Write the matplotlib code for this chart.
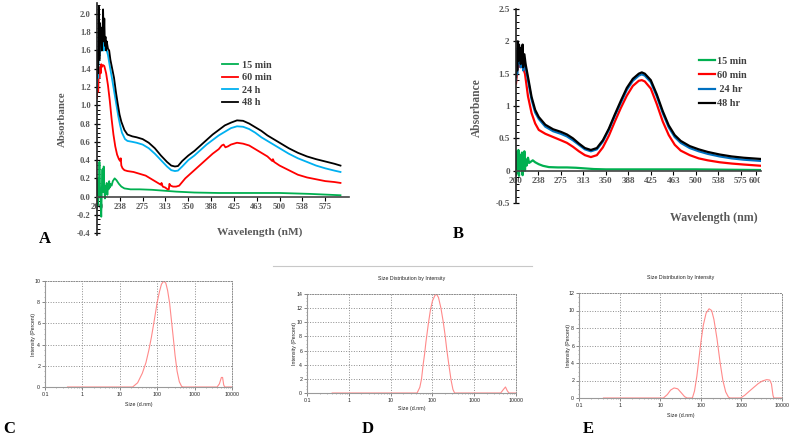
import numpy as np
import matplotlib.pyplot as plt
from matplotlib.lines import Line2D
from matplotlib.patches import Rectangle
from matplotlib.ticker import MultipleLocator, LogLocator, NullFormatter

# ---------------- UV-Vis panel A ----------------
wl_a_15 = [200, 201, 202, 203, 204, 205, 206, 207, 208, 209, 210, 211, 212, 213, 214, 215, 216, 217,
           218, 219, 220, 221, 222, 224, 226, 229, 232, 236, 240, 245, 255, 270, 290, 310, 330, 360,
           400, 450, 500, 550, 600]
abs_a_15 = [0.15, -0.1, 0.2, 0.0, 0.38, 0.1, -0.05, -0.22, 0.1, 0.3, 0.05, 0.33, 0.1, -0.02, 0.12, 0.04,
            0.15, 0.02, 0.13, 0.08, 0.17, 0.1, 0.14, 0.12, 0.17, 0.2, 0.18, 0.14, 0.11, 0.09, 0.08, 0.08,
            0.075, 0.065, 0.055, 0.045, 0.04, 0.04, 0.04, 0.03, 0.015]

wl_a_60 = [200, 201, 202, 203, 204, 205, 206, 207, 208, 210, 212, 215, 218, 221, 224, 227, 230, 233,
           236, 238, 239, 240, 242, 245, 250, 260, 270, 280, 290, 300, 305, 306, 308, 312, 316,
           318, 319, 321, 325, 330, 335, 340, 345, 350, 360, 370, 380, 390, 400, 405, 408, 411, 415,
           420, 430, 440, 450, 460, 470, 480, 488, 489, 491, 500, 515, 530, 545, 560, 575, 590, 600]
abs_a_60 = [1.08, 1.25, 1.15, 1.4, 1.3, 1.42, 1.35, 1.45, 1.42, 1.44, 1.43, 1.35, 1.22, 1.05, 0.85, 0.68,
            0.55, 0.46, 0.41, 0.39, 0.42, 0.34, 0.31, 0.29, 0.28, 0.27, 0.25, 0.23, 0.19, 0.15, 0.13,
            0.15, 0.11, 0.1, 0.08, 0.08, 0.14, 0.12, 0.11, 0.11, 0.12, 0.16, 0.2, 0.23, 0.29, 0.35, 0.41,
            0.47, 0.52, 0.56, 0.57, 0.54, 0.55, 0.57, 0.59, 0.58, 0.56, 0.52, 0.48, 0.44, 0.39, 0.41,
            0.38, 0.34, 0.29, 0.24, 0.21, 0.19, 0.17, 0.16, 0.15]

wl_a_24 = [200, 201, 202, 203, 204, 205, 206, 207, 208, 209, 210, 211, 212, 214, 216, 218, 221, 225,
           229, 232, 235, 238, 241, 246, 250, 258, 265, 275, 285, 295, 305, 315, 322, 328, 333, 340,
           350, 360, 370, 380, 390, 400, 410, 420, 430, 440, 450, 460, 470, 480, 490, 500, 515, 530,
           545, 560, 575, 590, 600]
abs_a_24 = [1.2, 1.45, 1.3, 1.8, 1.55, 1.78, 1.65, 1.8, 1.6, 1.72, 1.75, 1.6, 1.7, 1.62, 1.6, 1.55, 1.43,
            1.28, 1.12, 1.0, 0.88, 0.78, 0.7, 0.63, 0.61, 0.6, 0.59, 0.57, 0.53, 0.47, 0.4, 0.33, 0.29,
            0.28, 0.285, 0.33, 0.4, 0.45, 0.51, 0.57, 0.62, 0.67, 0.71, 0.75, 0.77, 0.765, 0.74, 0.7,
            0.65, 0.61, 0.57, 0.53, 0.47, 0.42, 0.38, 0.34, 0.31, 0.285, 0.27]

wl_a_48 = [200, 201, 202, 203, 204, 205, 206, 207, 208, 209, 210, 211, 212, 213, 214, 215, 216, 218,
           220, 222, 225, 228, 231, 234, 237, 240, 245, 250, 258, 265, 275, 285, 295, 305, 315, 322, 328,
           333, 340, 350, 360, 370, 380, 390, 400, 410, 420, 430, 440, 450, 460, 470, 480, 490, 500,
           515, 530, 545, 560, 575, 590, 600]
abs_a_48 = [1.3, 1.6, 1.35, 2.08, 1.5, 1.9, 1.7, 1.85, 1.6, 1.75, 2.05, 1.7, 1.95, 1.65, 1.75, 1.6, 1.7,
            1.62, 1.6, 1.5, 1.4, 1.3, 1.15, 1.02, 0.9, 0.82, 0.73, 0.68, 0.66, 0.65, 0.63, 0.59, 0.53, 0.45,
            0.38, 0.34, 0.33, 0.335, 0.39, 0.45, 0.5, 0.56, 0.62, 0.68, 0.73, 0.78, 0.81, 0.835, 0.83,
            0.8, 0.76, 0.72, 0.67, 0.63, 0.59, 0.53, 0.48, 0.44, 0.41, 0.385, 0.36, 0.34]

# ---------------- UV-Vis panel B ----------------
wl_b_15 = [200, 201, 202, 203, 204, 205, 206, 207, 208, 209, 210, 211, 212, 213, 214, 215, 216, 218,
           220, 222, 225, 228, 232, 238, 245, 255, 270, 285, 300, 315, 330, 350, 400, 450, 500, 550, 610]
abs_b_15 = [0.2, -0.05, 0.3, 0.05, 0.32, -0.08, 0.25, 0.02, 0.22, 0.1, 0.28, -0.07, 0.2, 0.05, 0.3,
            0.0, 0.18, 0.08, 0.2, 0.12, 0.14, 0.16, 0.13, 0.1, 0.075, 0.055, 0.05, 0.05, 0.045, 0.035,
            0.025, 0.02, 0.02, 0.02, 0.02, 0.015, 0.01]

wl_b_60 = [200, 202, 204, 206, 208, 210, 212, 215, 220, 226, 232, 238, 249, 262, 275,
           285, 295, 305, 315, 325, 335, 345, 355, 365, 375, 385, 395, 405, 410, 415, 425, 435, 445,
           455, 465, 475, 490, 505, 520, 540, 560, 580, 610]
abs_b_60 = [1.35, 1.55, 1.62, 1.65, 1.6, 1.62, 1.58, 1.5, 1.15, 0.89, 0.73, 0.63, 0.57,
            0.52, 0.47, 0.43, 0.37, 0.3, 0.24, 0.21, 0.24, 0.36, 0.54, 0.76, 0.97, 1.16, 1.31, 1.39, 1.4,
            1.38, 1.27, 1.03, 0.76, 0.55, 0.4, 0.31, 0.24, 0.19, 0.16, 0.13, 0.11, 0.095, 0.075]

wl_b_24 = [200, 201, 202, 203, 204, 205, 206, 207, 208, 209, 210, 211, 212, 213, 214, 216, 218, 221,
           226, 232, 238, 249, 262, 275, 285, 295, 305, 315, 325, 335, 345, 355, 365, 375, 385,
           395, 405, 410, 415, 425, 435, 445, 455, 465, 475, 490, 505, 520, 540, 560, 580, 610]
abs_b_24 = [1.4, 1.75, 1.5, 1.9, 1.65, 1.8, 1.7, 1.85, 1.6, 1.78, 1.7, 1.85, 1.55, 1.75, 1.72, 1.6,
            1.5, 1.35, 1.1, 0.9, 0.8, 0.68, 0.61, 0.57, 0.53, 0.47, 0.4, 0.33, 0.3, 0.33, 0.45,
            0.63, 0.85, 1.05, 1.25, 1.39, 1.47, 1.49, 1.47, 1.37, 1.15, 0.89, 0.67, 0.52, 0.43, 0.35,
            0.3, 0.26, 0.22, 0.19, 0.17, 0.15]

wl_b_48 = [200, 201, 202, 203, 204, 205, 206, 207, 208, 209, 210, 211, 212, 213, 214, 216, 218, 221,
           226, 232, 238, 249, 262, 275, 285, 295, 305, 315, 325, 335, 345, 355, 365, 375, 385,
           395, 405, 410, 415, 425, 435, 445, 455, 465, 475, 490, 505, 520, 540, 560, 580, 610]
abs_b_48 = [1.45, 1.85, 1.55, 2.0, 1.7, 1.95, 1.75, 1.9, 1.65, 1.85, 1.75, 1.95, 1.6, 1.8, 1.8, 1.65,
            1.55, 1.4, 1.14, 0.94, 0.83, 0.71, 0.64, 0.6, 0.56, 0.5, 0.42, 0.35, 0.32, 0.35, 0.47,
            0.65, 0.87, 1.08, 1.28, 1.42, 1.5, 1.52, 1.5, 1.4, 1.18, 0.92, 0.7, 0.55, 0.46, 0.38, 0.33,
            0.29, 0.25, 0.22, 0.2, 0.18]

uv_labels_a = ['15 min', '60 min', '24 h', '48 h']
uv_labels_b = ['15 min', '60 min', ' 24 hr', '48 hr']
wl_tick_vals = [200, 237.5, 275, 312.5, 350, 387.5, 425, 462.5, 500, 537.5, 575]
wl_tick_text = ['200', '238', '275', '313', '350', '388', '425', '463', '500', '538', '575']

# ---------------- DLS panels C, D, E ----------------
size_c = [0.4, 1, 10, 22, 30, 40, 50, 60, 70, 80, 90, 100, 115, 130, 150, 170, 190, 215, 240, 270, 300,
          340, 390, 450, 500, 1000, 4000, 4600, 5200, 5600, 6000, 6400, 10000]
int_c = [0, 0, 0, 0, 0.4, 1.3, 2.3, 3.5, 4.7, 5.9, 7.0, 8.0, 9.0, 9.7, 10.0, 9.8, 9.1, 7.9, 6.3, 4.6,
         3.0, 1.5, 0.5, 0.05, 0, 0, 0, 0.3, 0.9, 0.9, 0.2, 0, 0]

size_d = [0.4, 1, 10, 43, 50, 55, 60, 65, 70, 80, 90, 100, 115, 125, 140, 160, 180, 200, 220, 250, 280,
          310, 340, 1000, 4300, 5000, 5600, 6200, 6800, 10000]
int_d = [0, 0, 0, 0, 0.8, 2.0, 4.0, 5.5, 7.2, 9.8, 11.8, 13.0, 13.8, 14.0, 13.5, 12.0, 10.2, 8.3, 6.2,
         3.8, 1.8, 0.5, 0, 0, 0, 0.5, 0.85, 0.3, 0, 0]

size_e = [0.4, 1, 12, 15, 18, 22, 27, 33, 40, 46, 62, 70, 80, 90, 100, 115, 135, 160, 185, 210, 250, 300,
          350, 410, 480, 530, 950, 1200, 1500, 2000, 2600, 3300, 4200, 5000, 5500, 6000, 6300, 10000]
int_e = [0, 0, 0, 0.4, 0.9, 1.15, 1.05, 0.6, 0.15, 0, 0, 0.8, 2.5, 4.5, 6.3, 8.3, 9.7, 10.2, 10.0, 9.0,
         6.8, 4.0, 2.0, 0.7, 0.1, 0, 0, 0.3, 0.7, 1.2, 1.65, 1.95, 2.1, 2.05, 1.6, 0.3, 0, 0]

W, H = 789, 438
fig = plt.figure(figsize=(W / 100, H / 100), dpi=100)

def px_axes(left, top, right, bottom):
    return fig.add_axes([left / W, 1 - bottom / H, (right - left) / W, (bottom - top) / H])

SERIF = 'Liberation Serif'
SANS = 'Liberation Sans'
GRAY = '#595959'


def uv_axes(ax, fsize):
    for s in ['top', 'right']:
        ax.spines[s].set_visible(False)
    ax.spines['bottom'].set_position(('data', 0))
    ax.spines['left'].set_linewidth(1.2)
    ax.spines['bottom'].set_linewidth(1.2)
    ax.spines['left'].set_color('#222222')
    ax.spines['bottom'].set_color('#444444')
    ax.tick_params(axis='x', direction='out', length=3, width=0.8, pad=1.5)
    ax.tick_params(axis='y', which='major', direction='inout', length=5, width=0.9, pad=2)
    ax.tick_params(axis='y', which='minor', direction='in', length=2.5, width=0.7)
    for lbl in ax.get_xticklabels() + ax.get_yticklabels():
        lbl.set_family(SERIF)
        lbl.set_weight('bold')
        lbl.set_color(GRAY)
        lbl.set_fontsize(fsize)


# ---- A ----
axA = px_axes(97, 3, 349, 235)
colors_a = ['#00b050', '#ff0000', '#00b0f0', '#000000']
for wl, ab, c, lab in zip([wl_a_15, wl_a_60, wl_a_24, wl_a_48],
                          [abs_a_15, abs_a_60, abs_a_24, abs_a_48], colors_a, uv_labels_a):
    axA.plot(wl, ab, color=c, lw=1.3, label=lab)
axA.set_xlim(200, 614)
axA.set_ylim(-0.42, 2.12)
yt_a = np.round(np.arange(-0.4, 2.01, 0.2), 1)
axA.set_xticks(wl_tick_vals)
axA.set_xticklabels(wl_tick_text)
axA.set_yticks(yt_a)
axA.set_yticklabels(['%.1f' % v for v in yt_a])
axA.yaxis.set_minor_locator(MultipleLocator(0.05))
uv_axes(axA, 6.2)
axA.set_ylabel('Absorbance', family=SERIF, weight='bold', color=GRAY, fontsize=7.8)
axA.yaxis.set_label_coords(-0.118, 0.5)
axA.set_xlabel('Wavelength (nM)', family=SERIF, weight='bold', color=GRAY, fontsize=8.2, va='center')
axA.xaxis.set_label_coords(0.645, 0.012)
legA = axA.legend(loc='upper left', bbox_to_anchor=(0.48, 0.77), frameon=False,
                  prop={'family': SERIF, 'weight': 'bold', 'size': 7.3},
                  handlelength=1.6, handletextpad=0.35, labelspacing=0.35, borderaxespad=0)
for t in legA.get_texts():
    t.set_color('#404040')

# ---- B ----
axB = px_axes(516, 9, 761, 203)
colors_b = ['#00b050', '#ff0000', '#0070c0', '#000000']
for wl, ab, c, lab in zip([wl_b_15, wl_b_60, wl_b_24, wl_b_48],
                          [abs_b_15, abs_b_60, abs_b_24, abs_b_48], colors_b, uv_labels_b):
    axB.plot(wl, ab, color=c, lw=1.6, label=lab)
axB.set_xlim(200, 609)
axB.set_ylim(-0.5, 2.5)
axB.set_xticks(wl_tick_vals + [600])
axB.set_xticklabels(wl_tick_text + ['600'])
axB.set_yticks([-0.5, 0, 0.5, 1, 1.5, 2, 2.5])
axB.set_yticklabels(['-0.5', '0', '0.5', '1', '1.5', '2', '2.5'])
axB.yaxis.set_minor_locator(MultipleLocator(0.1))
uv_axes(axB, 6.6)
axB.set_ylabel('Absorbance', family=SERIF, weight='bold', color=GRAY, fontsize=8.3)
axB.yaxis.set_label_coords(-0.135, 0.49)
axB.set_xlabel('Wavelength (nm)', family=SERIF, weight='bold', color=GRAY, fontsize=8.6, va='center')
axB.xaxis.set_label_coords(0.808, -0.077)
legB = axB.legend(loc='upper left', bbox_to_anchor=(0.73, 0.775), frameon=False,
                  prop={'family': SERIF, 'weight': 'bold', 'size': 7.3},
                  handlelength=1.6, handletextpad=0.15, labelspacing=0.5, borderaxespad=0)
for t in legB.get_texts():
    t.set_color('#404040')

# the original panel B image is cropped right after the "6" of the last tick label
fig.add_artist(Rectangle((760 / W, 1 - 195 / H), 29 / W, 20 / H, transform=fig.transFigure,
                         facecolor='white', edgecolor='none', zorder=10))


# ---- DLS ----
def dls_axes(ax, size, inten, ymax, ystep, title, ylab_x, xlab_y):
    ax.plot(size, inten, color='#ff8a8a', lw=0.8)
    ax.set_xscale('log')
    ax.set_xlim(0.1, 10000)
    ax.set_ylim(0, ymax)
    ax.set_yticks(np.arange(0, ymax + 0.1, ystep))
    ax.set_xticks([0.1, 1, 10, 100, 1000, 10000])
    ax.set_xticklabels(['0.1', '1', '10', '100', '1000', '10000'])
    ax.xaxis.set_minor_locator(LogLocator(base=10, subs=np.arange(2, 10), numticks=20))
    ax.xaxis.set_minor_formatter(NullFormatter())
    ax.yaxis.set_minor_locator(MultipleLocator(ystep / 4))
    ax.grid(True, which='major', linestyle=':', color='#8c8c8c', lw=0.7)
    for s in ['top', 'right']:
        ax.spines[s].set_linestyle(':')
        ax.spines[s].set_color('#8c8c8c')
        ax.spines[s].set_linewidth(0.7)
    for s in ['left', 'bottom']:
        ax.spines[s].set_color('#9a9a9a')
        ax.spines[s].set_linewidth(0.8)
    ax.tick_params(which='major', length=2, width=0.5, labelsize=3.8, pad=1.5, colors='#555555',
                   labelcolor='#222222')
    ax.tick_params(which='minor', length=1, width=0.4, colors='#777777')
    for lbl in ax.get_xticklabels() + ax.get_yticklabels():
        lbl.set_family(SANS)
    ax.set_ylabel('Intensity (Percent)', family=SANS, fontsize=3.8, color='#222222')
    ax.yaxis.set_label_coords(ylab_x, 0.5)
    ax.set_xlabel('Size (d.nm)', family=SANS, fontsize=3.8, color='#222222')
    ax.xaxis.set_label_coords(0.5, xlab_y)
    if title:
        ax.set_title(title, family=SANS, fontsize=3.8, color='#222222', pad=10)


axC = px_axes(45, 281, 232, 387)
dls_axes(axC, size_c, int_c, 10, 2, None, -0.05, -0.14)
axD = px_axes(307, 294, 516, 393)
dls_axes(axD, size_d, int_d, 14, 2, 'Size Distribution by Intensity', -0.05, -0.13)
axE = px_axes(579, 293, 782, 398)
dls_axes(axE, size_e, int_e, 12, 2, 'Size Distribution by Intensity', -0.04, -0.14)

fig.add_artist(Line2D([273 / W, 532 / W], [1 - 266 / H, 1 - 266 / H], color='#c8c8c8', lw=0.8))

for letter, x, y in [('A', 45, 243), ('B', 458, 238), ('C', 9, 433), ('D', 368, 433), ('E', 588, 433)]:
    fig.text(x / W, 1 - y / H, letter, family=SERIF, weight='bold', fontsize=12,
             ha='center', va='baseline', color='black')

fig.savefig('out.png', dpi=100)
